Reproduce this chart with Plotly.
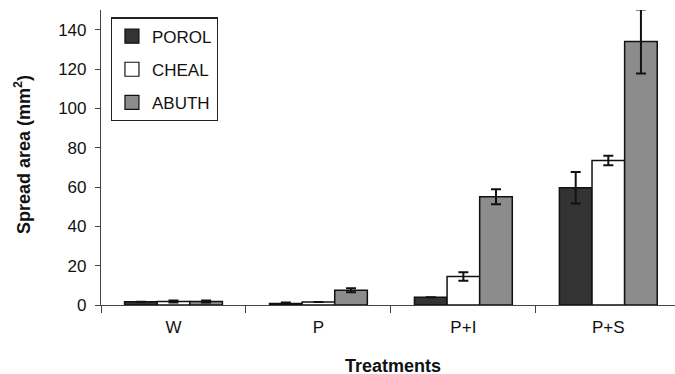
import plotly.graph_objects as go

categories = ["W", "P", "P+I", "P+S"]
series_names = ["POROL", "CHEAL", "ABUTH"]
porol = [1.6, 0.8, 4.0, 59.6]
porol_err = [0.0, 0.5, 0.0, 8.0]
cheal = [1.8, 1.5, 14.5, 73.5]
cheal_err = [0.5, 0.0, 2.2, 2.4]
abuth = [1.8, 7.5, 55.0, 134.0]
abuth_err = [0.5, 1.0, 3.8, 16.3]
colors = ["#333333", "#ffffff", "#8c8c8c"]

FONT = "Liberation Sans, Arial, sans-serif"
fig = go.Figure()
for name, vals, errs, col in zip(series_names, [porol, cheal, abuth],
                                 [porol_err, cheal_err, abuth_err], colors):
    fig.add_trace(go.Bar(
        name=name, x=categories, y=vals, showlegend=False, cliponaxis=False,
        marker=dict(color=col, line=dict(color="#111111", width=1.5)),
        error_y=dict(type="data", array=errs, visible=True, color="#111111",
                     thickness=2, width=5),
    ))
# legend entries with larger square swatches
for name, col in zip(series_names, colors):
    fig.add_trace(go.Scatter(
        name=name, x=[None], y=[None], mode="markers", legendgroup=name,
        marker=dict(symbol="square", size=14, color=col,
                    line=dict(color="#111111", width=1.2)),
    ))

fig.update_layout(
    width=675, height=374,
    margin=dict(l=101, r=0, t=10, b=69),
    paper_bgcolor="white", plot_bgcolor="white",
    barmode="group", bargap=0.325, bargroupgap=0,
    font=dict(family=FONT, size=16, color="#111111"),
    showlegend=True,
    legend=dict(x=0.017, y=0.975, xanchor="left", yanchor="top",
                bordercolor="#222222", borderwidth=1.2, bgcolor="white",
                font=dict(size=17), itemwidth=30, tracegroupgap=8),
    xaxis=dict(range=[-0.5, 3.46], tickson="boundaries", ticks="outside",
               ticklen=7, tickcolor="#444444", showline=True, linecolor="#444444",
               linewidth=1.2, showgrid=False, ticklabelstandoff=6,
               tickfont=dict(size=17)),
    yaxis=dict(range=[0, 150], dtick=20, ticks="outside", ticklen=5,
               tickcolor="#444444", showline=True, linecolor="#444444",
               linewidth=1.2, showgrid=False, zeroline=False,
               ticklabelstandoff=5, tickfont=dict(size=17)),
    annotations=[
        dict(text="<b>Treatments</b>", xref="paper", yref="paper",
             x=(393 - 101) / 574, y=-(366 - 305) / 295, xanchor="center",
             yanchor="middle", showarrow=False, font=dict(size=18)),
        dict(text="<b>Spread area (mm<sup>2</sup>)</b>", xref="paper", yref="paper",
             x=-(101 - 22) / 574, y=(305 - 155) / 295, xanchor="center",
             yanchor="middle", showarrow=False, textangle=-90, font=dict(size=18)),
    ],
)

fig.write_html("out.html", config={"displayModeBar": False},
               post_script="document.body.style.margin='0';")
